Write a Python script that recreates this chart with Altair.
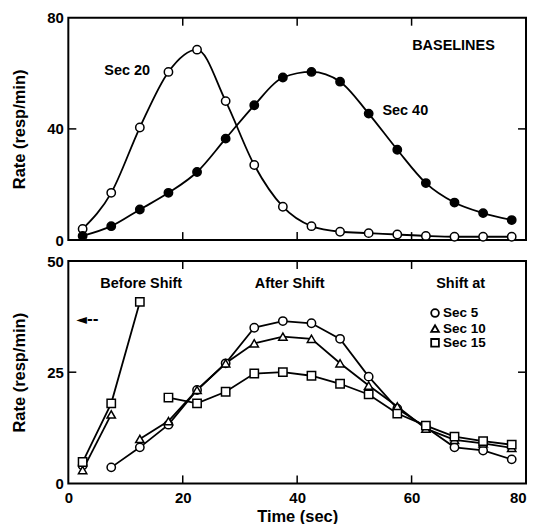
import altair as alt
import pandas as pd

# ---------------- data ----------------
time_top = [2.5, 7.5, 12.5, 17.5, 22.5, 27.5, 32.5, 37.5, 42.5, 47.5, 52.5, 57.5, 62.5, 67.5, 72.5, 77.5]
sec20 = [4, 17, 40.5, 60.5, 68.5, 50, 27, 12, 5, 3, 2.5, 2, 1.5, 1.2, 1.2, 1.2]
sec40 = [1.5, 5, 11, 17, 24.5, 36.5, 48.5, 58.5, 60.5, 57, 45.5, 32.5, 20.5, 13.5, 9.7, 7.2]

before_t5 = [2.5]
before_5 = [4]
before_t10 = [2.5, 7.5]
before_10 = [3, 15.5]
before_t15 = [2.5, 7.5, 12.5]
before_15 = [4.8, 18, 40.8]

after_t5 = [7.5, 12.5, 17.5, 22.5, 27.5, 32.5, 37.5, 42.5, 47.5, 52.5, 57.5, 62.5, 67.5, 72.5, 77.5]
after_5 = [3.6, 8.1, 13.2, 21, 27, 35, 36.5, 36, 32.5, 24, 16.8, 12.6, 8.1, 7.4, 5.4]
after_t10 = [12.5, 17.5, 22.5, 27.5, 32.5, 37.5, 42.5, 47.5, 52.5, 57.5, 62.5, 67.5, 72.5, 77.5]
after_10 = [10, 14, 21, 27, 31.5, 33, 32.5, 27, 22, 17.3, 12.3, 9.8, 9, 8]
after_t15 = [17.5, 22.5, 27.5, 32.5, 37.5, 42.5, 47.5, 52.5, 57.5, 62.5, 67.5, 72.5, 77.5]
after_15 = [19.3, 18, 20.6, 24.7, 25, 24.2, 22.4, 20, 15.7, 13, 10.5, 9.5, 8.7]

x_ticks = [20, 40, 60]
top_y_ticks = [40]
bot_y_ticks = [25]

top_labels = ["Sec 20", "Sec 40", "BASELINES"]
top_label_x = [6.3, 54.9, 60.1]
top_label_y = [61, 46.6, 70]

bot_labels = ["Before Shift", "After Shift", "Shift at"]
bot_label_x = [5.6, 32.6, 64.3]
bot_label_y = [44.8, 44.8, 44.8]

legend_names = ["Sec 5", "Sec 10", "Sec 15"]
legend_x = [64.1, 64.1, 64.1]
legend_text_x = [65.5, 65.5, 65.5]
legend_y = [38.3, 34.8, 31.6]

arrow_label = ["\u25c4--"]
arrow_x = [1.4]
arrow_y = [36.8]

# ---------------- tables ----------------
top_df = pd.concat([
    pd.DataFrame({"t": time_top, "rate": sec20, "series": "Sec 20"}),
    pd.DataFrame({"t": time_top, "rate": sec40, "series": "Sec 40"}),
])

rows = []
for name, seg, ts, vs in [
    ("Sec 5", "before", before_t5, before_5),
    ("Sec 10", "before", before_t10, before_10),
    ("Sec 15", "before", before_t15, before_15),
    ("Sec 5", "after", after_t5, after_5),
    ("Sec 10", "after", after_t10, after_10),
    ("Sec 15", "after", after_t15, after_15),
]:
    for t, v in zip(ts, vs):
        rows.append({"t": t, "rate": v, "series": name, "seg": name + seg})
bot_df = pd.DataFrame(rows)

W = 459
H = 223
FONT = "Liberation Sans"

xscale = alt.Scale(domain=[0, 80], nice=False)
ytop = alt.Scale(domain=[0, 80], nice=False)
ybot = alt.Scale(domain=[0, 50], nice=False)

yaxis_common = dict(
    grid=False, ticks=False, domain=False, labelFont=FONT, labelFontSize=15,
    labelFontWeight="bold", labelColor="black", labelPadding=5, labelFlush=False,
    titleFont=FONT, titleFontSize=16.5, titleFontWeight="bold", titleColor="black",
    titlePadding=19,
)

shape_scale = alt.Scale(domain=legend_names, range=["circle", "triangle-up", "square"])


def inward_ticks(xt, yt, yscale):
    xdf = pd.DataFrame({"v": xt})
    ydf = pd.DataFrame({"v": yt})
    a = alt.Chart(xdf).mark_rule(color="black", strokeWidth=1.5).encode(
        x=alt.X("v:Q", scale=xscale), y=alt.value(0), y2=alt.value(8))
    b = alt.Chart(xdf).mark_rule(color="black", strokeWidth=1.5).encode(
        x=alt.X("v:Q", scale=xscale), y=alt.value(H), y2=alt.value(H - 8))
    c = alt.Chart(ydf).mark_rule(color="black", strokeWidth=1.5).encode(
        y=alt.Y("v:Q", scale=yscale), x=alt.value(0), x2=alt.value(8))
    d = alt.Chart(ydf).mark_rule(color="black", strokeWidth=1.5).encode(
        y=alt.Y("v:Q", scale=yscale), x=alt.value(W - 8), x2=alt.value(W))
    return [a, b, c, d]


# ---------------- top panel ----------------
top_base = alt.Chart(top_df)
top_lines = top_base.mark_line(interpolate="monotone", color="black", strokeWidth=1.8).encode(
    x=alt.X("t:Q", scale=xscale, axis=None),
    y=alt.Y("rate:Q", scale=ytop, title="Rate (resp/min)",
            axis=alt.Axis(values=[0, 40, 80], **yaxis_common)),
    detail="series:N",
)
top_pts = top_base.mark_point(shape="circle", filled=True, size=70, stroke="black",
                              strokeWidth=1.5, opacity=1).encode(
    x=alt.X("t:Q", scale=xscale),
    y=alt.Y("rate:Q", scale=ytop),
    fill=alt.Fill("series:N", scale=alt.Scale(domain=["Sec 20", "Sec 40"], range=["white", "black"]),
                  legend=None),
)
top_text_df = pd.DataFrame({"label": top_labels, "x": top_label_x, "y": top_label_y})
top_text = alt.Chart(top_text_df).mark_text(align="left", baseline="middle", font=FONT,
                                            fontSize=14.5, fontWeight="bold", color="black").encode(
    x=alt.X("x:Q", scale=xscale), y=alt.Y("y:Q", scale=ytop), text="label:N")

top = alt.layer(top_lines, top_pts, top_text, *inward_ticks(x_ticks, top_y_ticks, ytop)).properties(
    width=W, height=H)

# ---------------- bottom panel ----------------
bot_base = alt.Chart(bot_df)
bot_lines = bot_base.mark_line(color="black", strokeWidth=1.8).encode(
    x=alt.X("t:Q", scale=xscale, title="Time (sec)",
            axis=alt.Axis(values=[0, 20, 40, 60, 80], grid=False, ticks=False, domain=False,
                          labelFont=FONT, labelFontSize=15, labelFontWeight="bold", labelFlush=False,
                          labelAlign=alt.ExprRef(expr="datum.value == 80 ? 'right' : 'center'"),
                          labelColor="black", labelPadding=7, titleFont=FONT, titleFontSize=16.5,
                          titleFontWeight="bold", titleColor="black", titlePadding=3)),
    y=alt.Y("rate:Q", scale=ybot, title="Rate (resp/min)",
            axis=alt.Axis(values=[0, 25, 50], **yaxis_common)),
    detail="seg:N",
)
bot_pts = bot_base.mark_point(filled=True, fill="white", size=70, stroke="black",
                              strokeWidth=1.5, opacity=1).encode(
    x=alt.X("t:Q", scale=xscale),
    y=alt.Y("rate:Q", scale=ybot),
    shape=alt.Shape("series:N", scale=shape_scale, legend=None),
)
leg_df = pd.DataFrame({"series": legend_names, "x": legend_x, "tx": legend_text_x, "y": legend_y})
leg_pts = alt.Chart(leg_df).mark_point(filled=True, fill="white", size=60, stroke="black",
                                       strokeWidth=1.8, opacity=1).encode(
    x=alt.X("x:Q", scale=xscale), y=alt.Y("y:Q", scale=ybot),
    shape=alt.Shape("series:N", scale=shape_scale, legend=None),
)
leg_text = alt.Chart(leg_df).mark_text(align="left", baseline="middle", font=FONT,
                                       fontSize=13.5, fontWeight="bold", color="black").encode(
    x=alt.X("tx:Q", scale=xscale), y=alt.Y("y:Q", scale=ybot), text="series:N")
bot_text_df = pd.DataFrame({"label": bot_labels, "x": bot_label_x, "y": bot_label_y})
bot_text = alt.Chart(bot_text_df).mark_text(align="left", baseline="middle", font=FONT,
                                            fontSize=14.5, fontWeight="bold", color="black").encode(
    x=alt.X("x:Q", scale=xscale), y=alt.Y("y:Q", scale=ybot), text="label:N")
arrow_df = pd.DataFrame({"label": arrow_label, "x": arrow_x, "y": arrow_y})
arrow_text = alt.Chart(arrow_df).mark_text(align="left", baseline="middle", font="DejaVu Sans",
                                           fontSize=14, fontWeight="bold", color="black").encode(
    x=alt.X("x:Q", scale=xscale), y=alt.Y("y:Q", scale=ybot), text="label:N")

bottom = alt.layer(bot_lines, bot_pts, leg_pts, leg_text, bot_text, arrow_text,
                   *inward_ticks(x_ticks, bot_y_ticks, ybot)).properties(width=W, height=H)

chart = alt.vconcat(top, bottom, spacing=4).properties(
    padding={"left": 2.5, "top": 1, "right": 1, "bottom": 0},
    background="white",
).configure_view(stroke="black", strokeWidth=2)

chart.save("out.html", embed_options={"renderer": "svg", "actions": False})
